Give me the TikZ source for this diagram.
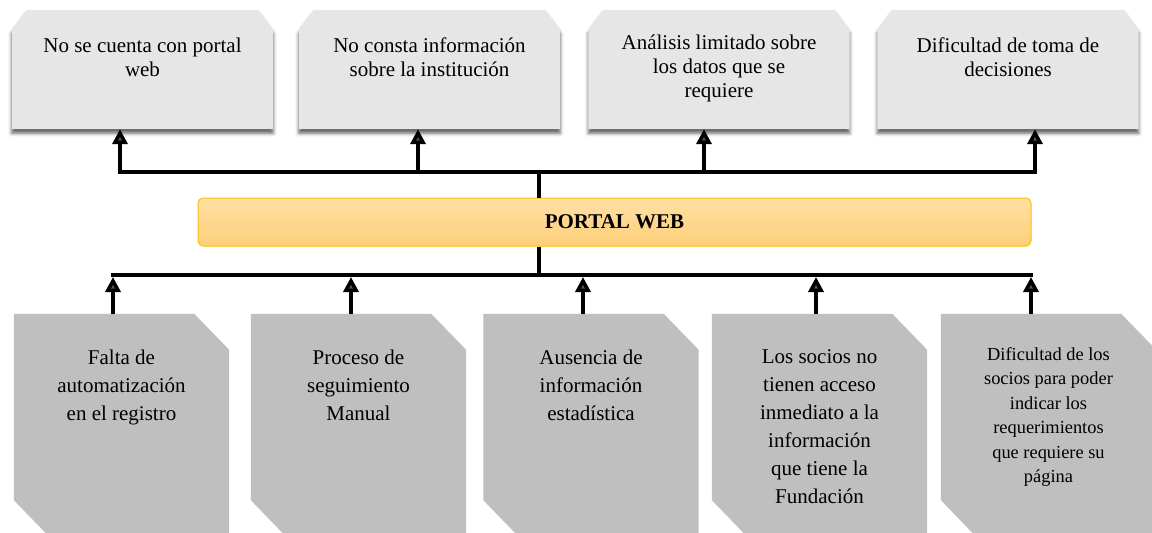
\documentclass[tikz,border=0pt]{standalone}
\usepackage{fontspec}
\setmainfont{LiberationSerif}[Extension=.ttf,UprightFont=*-Regular,BoldFont=*-Bold,ItalicFont=*-Italic,BoldItalicFont=*-BoldItalic]
\usetikzlibrary{arrows.meta,calc,shadows.blur}
\definecolor{topfill}{HTML}{E6E6E6}
\definecolor{botfill}{HTML}{BFBFBF}
\definecolor{barborder}{HTML}{FFC000}
\definecolor{bartop}{HTML}{FFE0A3}
\definecolor{barbot}{HTML}{FDCF7A}
\newcommand\TopShape[1]{%
  \fill[topfill, blur shadow={shadow xshift=0pt,shadow yshift=-4pt,shadow blur radius=3.5pt,shadow opacity=65}]
    ($(#1.north west)+(0,20)$) -- ($(#1.north west)+(15,0)$) -- ($(#1.north east)+(-15,0)$)
    -- ($(#1.north east)+(0,20)$) -- (#1.south east) -- (#1.south west) -- cycle;}
\newcommand\BotShape[1]{%
  \fill[botfill] (#1.north west) -- ($(#1.north east)+(-35,0)$) -- ($(#1.north east)+(0,36)$)
    -- (#1.south east) -- ($(#1.south west)+(32,0)$) -- ($(#1.south west)+(0,-33)$) -- cycle;}
\begin{document}
\begin{tikzpicture}[x=1pt,y=-1pt,
  line/.style={line width=3.5pt},
  arr/.style={line width=3.5pt,-{Triangle[width=15pt,length=15pt]}},
  topbox/.style={draw=none,inner sep=0pt,minimum width=261pt,minimum height=119pt},
  botbox/.style={draw=none,inner sep=0pt,minimum width=215pt,minimum height=219pt},
  toptext/.style={anchor=north,inner sep=0pt,align=center,font=\fontsize{21}{24}\selectfont},
  bottext/.style={anchor=north,inner sep=0pt,align=center,font=\fontsize{21}{28}\selectfont},
  smalltext/.style={anchor=north,inner sep=0pt,align=center,font=\fontsize{18.4}{24.4}\selectfont},
  bar/.style={draw=barborder,line width=1pt,rounded corners=5pt,top color=bartop,bottom color=barbot,
    minimum width=833pt,minimum height=48pt,inner sep=0pt,font=\fontsize{21}{24}\selectfont\bfseries}]
\useasboundingbox (0,0) rectangle (1152,533);
\clip (0,0) rectangle (1152,533);

% top boxes
\node[topbox] (t1) at (142.5,69.5) {};
\node[topbox] (t2) at (429.5,69.5) {};
\node[topbox] (t3) at (719,69.5) {};
\node[topbox] (t4) at (1008,69.5) {};
\TopShape{t1}\TopShape{t2}\TopShape{t3}\TopShape{t4}
\node[toptext] (t1t) at ($(t1.north)+(0,24.5)$) {\vphantom{Á}No se cuenta con portal\\web};
\node[toptext] (t2t) at ($(t2.north)+(0,24.5)$) {\vphantom{Á}No consta información\\sobre la institución};
\node[toptext] (t3t) at ($(t3.north)+(0,24.5)$) {Análisis limitado sobre\\los datos que se\\requiere};
\node[toptext] (t4t) at ($(t4.north)+(0,24.5)$) {\vphantom{Á}Dificultad de toma de\\decisiones};

% bottom boxes
\node[botbox] (b1) at (121.5,423.5) {};
\node[botbox] (b2) at (358.5,423.5) {};
\node[botbox] (b3) at (591,423.5) {};
\node[botbox] (b4) at (819.5,423.5) {};
\node[botbox] (b5) at (1048.5,423.5) {};
\BotShape{b1}\BotShape{b2}\BotShape{b3}\BotShape{b4}\BotShape{b5}
\node[bottext] (b1t) at ($(b1.north)+(0,36)$) {Falta de\\automatización\\en el registro};
\node[bottext] (b2t) at ($(b2.north)+(0,36)$) {Proceso de\\seguimiento\\Manual};
\node[bottext] (b3t) at ($(b3.north)+(0,36)$) {Ausencia de\\información\\estadística};
\node[bottext] (b4t) at ($(b4.north)+(0,36)$) {Los socios no\\tienen acceso\\inmediato a la\\información\\que tiene la\\Fundación};
\node[smalltext] (b5t) at ($(b5.north)+(0,33.5)$) {Dificultad de los\\socios para poder\\indicar los\\requerimientos\\que requiere su\\página};

% central bar
\node[bar] (pw) at (614.5,222) {PORTAL WEB};

% bus coordinates
\coordinate (tb) at (539,172);
\coordinate (bb) at (539,275);
\coordinate (ta1) at ($(t1.south)+(-22.5,0)$);
\coordinate (ta2) at ($(t2.south)+(-11.5,0)$);
\coordinate (ta3) at ($(t3.south)+(-15,0)$);
\coordinate (ta4) at ($(t4.south)+(27,0)$);
\coordinate (ba1) at ($(b1.north)+(-8.5,0)$);
\coordinate (ba2) at ($(b2.north)+(-7.5,0)$);
\coordinate (ba3) at ($(b3.north)+(-8,0)$);
\coordinate (ba4) at ($(b4.north)+(-3.5,0)$);
\coordinate (ba5) at ($(b5.north)+(-17.5,0)$);

% top connectors
\draw[line] (pw.north -| tb) -- (tb);
\draw[line,line cap=rect] (ta1 |- tb) -- (ta4 |- tb);
\draw[arr] (ta1 |- tb) -- (ta1);
\draw[arr] (ta2 |- tb) -- (ta2);
\draw[arr] (ta3 |- tb) -- (ta3);
\draw[arr] (ta4 |- tb) -- (ta4);

% bottom connectors
\draw[line] (pw.south -| bb) -- (bb);
\draw[line,line cap=rect] (ba1 |- bb) -- (ba5 |- bb);
\draw[arr,shorten >=2pt] (ba1) -- (ba1 |- bb);
\draw[arr,shorten >=2pt] (ba2) -- (ba2 |- bb);
\draw[arr,shorten >=2pt] (ba3) -- (ba3 |- bb);
\draw[arr,shorten >=2pt] (ba4) -- (ba4 |- bb);
\draw[arr,shorten >=2pt] (ba5) -- (ba5 |- bb);
\end{tikzpicture}
\end{document}
